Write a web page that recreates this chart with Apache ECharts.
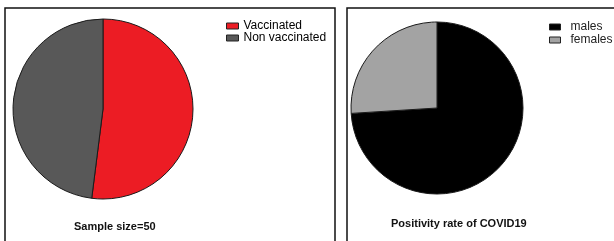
<!DOCTYPE html>
<html>
<head>
<meta charset="utf-8">
<script src="https://cdn.jsdelivr.net/npm/echarts@6/dist/echarts.min.js"></script>
<style>
  html, body { margin: 0; padding: 0; background: #fff; }
  #chart { width: 614px; height: 241px; }
</style>
</head>
<body>
<div id="chart"></div>
<script>
// left pie: vaccination status, sample of 50
var vaccNames = ['Vaccinated', 'Non vaccinated'];
var vaccValues = [26, 24];
var vaccColors = ['#ec1c24', '#585858'];

// right pie: positivity by sex (percent)
var sexNames = ['males', 'females'];
var sexValues = [74, 26];
var sexColors = ['#000000', '#a3a3a3'];

var chart = echarts.init(document.getElementById('chart'));

function pieData(names, values, colors) {
	var data = [];
	for (var i = 0; i < names.length; i++) {
		data.push({ name: names[i], value: values[i], itemStyle: { color: colors[i] } });
	}
	return data;
}

chart.setOption({
	animation: false,
	textStyle: { fontFamily: 'Liberation Sans, Arial, sans-serif' },
	graphic: [
		// panel frames
		{ type: 'rect', shape: { x: 5, y: 8, width: 330, height: 250 },
		  style: { fill: 'none', stroke: '#111', lineWidth: 1.5 } },
		{ type: 'rect', shape: { x: 347, y: 8, width: 300, height: 250 },
		  style: { fill: 'none', stroke: '#111', lineWidth: 1.5 } },
		{ type: 'text', left: 74, top: 221,
		  style: { text: 'Sample size=50', fontSize: 11, fontWeight: 'bold', fill: '#111',
		           fontFamily: 'Liberation Sans, Arial, sans-serif' } },
		{ type: 'text', left: 391, top: 218,
		  style: { text: 'Positivity rate of COVID19', fontSize: 11, fontWeight: 'bold', fill: '#111',
		           fontFamily: 'Liberation Sans, Arial, sans-serif' } }
	],
	legend: [
		{
			data: vaccNames,
			orient: 'vertical',
			left: 221,
			top: 15,
			itemWidth: 12,
			itemHeight: 6,
			itemGap: 0,
			icon: 'rect',
			itemStyle: { borderColor: '#222', borderWidth: 1 },
			textStyle: { fontSize: 12, color: '#000', padding: [0, 0, 0, 0] }
		},
		{
			data: sexNames,
			orient: 'vertical',
			left: 544,
			top: 16,
			itemWidth: 11,
			itemHeight: 6,
			itemGap: 1,
			icon: 'rect',
			itemStyle: { borderColor: '#222', borderWidth: 1 },
			textStyle: { fontSize: 12, color: '#222', padding: [0, 0, 0, 5] }
		}
	],
	series: [
		{
			type: 'pie',
			center: [103, 109],
			radius: 90,
			startAngle: 90,
			clockwise: true,
			silent: true,
			label: { show: false },
			labelLine: { show: false },
			itemStyle: { borderColor: '#1a1a1a', borderWidth: 1 },
			data: pieData(vaccNames, vaccValues, vaccColors)
		},
		{
			type: 'pie',
			center: [437, 108],
			radius: 86,
			startAngle: 90,
			clockwise: true,
			silent: true,
			label: { show: false },
			labelLine: { show: false },
			itemStyle: { borderColor: '#1a1a1a', borderWidth: 1 },
			data: pieData(sexNames, sexValues, sexColors)
		}
	]
});
</script>
</body>
</html>
